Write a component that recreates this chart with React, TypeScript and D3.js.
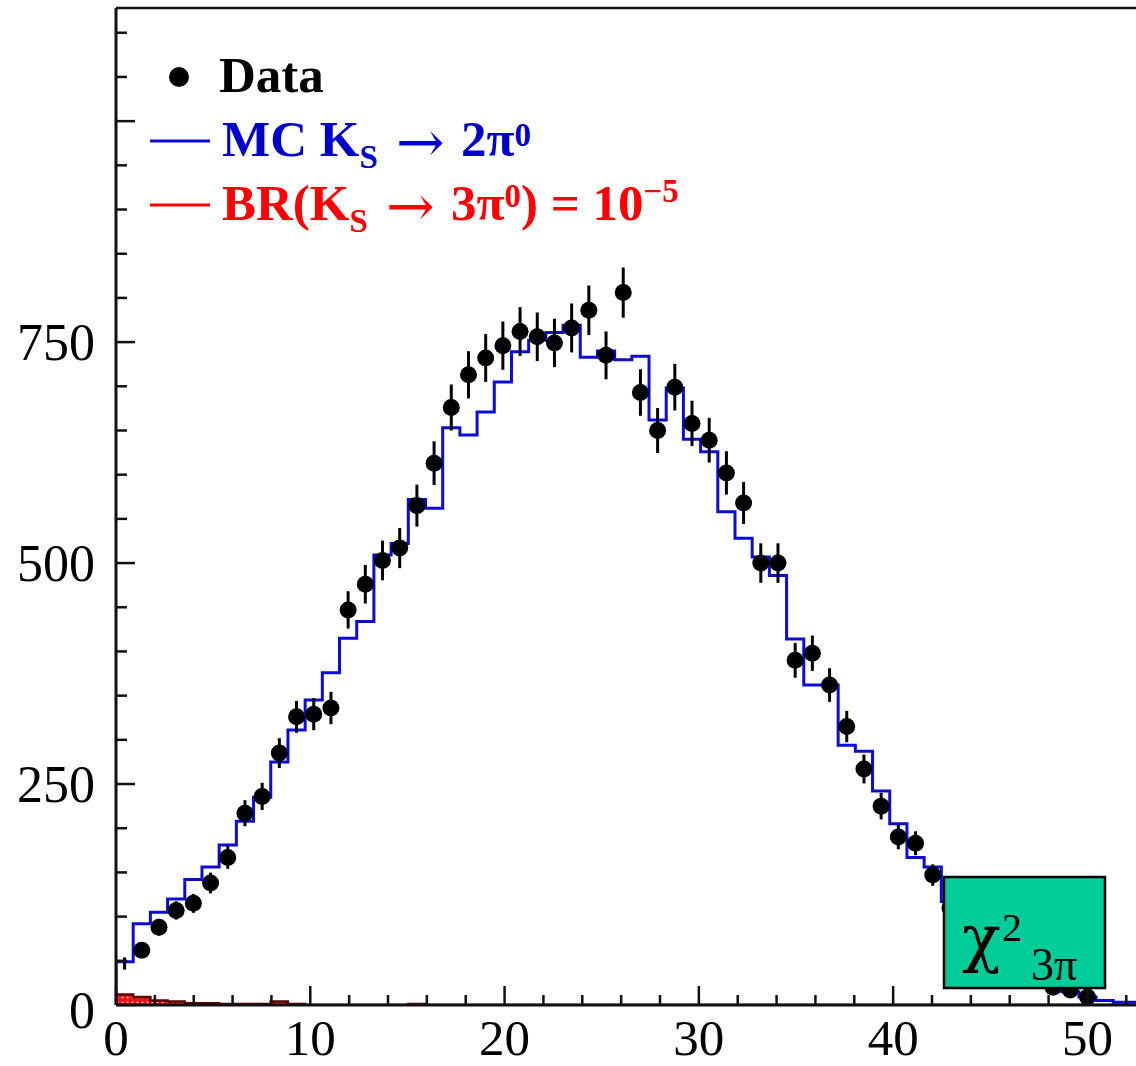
import React from "react";
import * as d3 from "d3";

// ---- data ----
const BIN_WIDTH = 0.885; // histogram bin width in x units (60 bins)
const dataCounts = [
  47, 62, 88, 107, 115, 138, 167, 217, 236, 285,
  326, 329, 336, 447, 476, 503, 517, 565, 613, 676,
  713, 732, 746, 762, 756, 749, 766, 786, 735, 806,
  693, 650, 699, 658, 639, 602, 568, 500, 500, 390,
  398, 362, 315, 267, 225, 190, 183, 147, 110, 90,
  70, 55, 40, 30, 20, 17, 9, 0, 0, 0,
];
const mcCounts = [
  49, 92, 105, 120, 142, 156, 181, 208, 235, 275,
  311, 345, 376, 415, 434, 509, 522, 572, 562, 653,
  645, 671, 705, 739, 752, 761, 769, 733, 740, 730,
  734, 662, 698, 640, 626, 558, 528, 507, 486, 414,
  362, 362, 294, 287, 242, 205, 167, 156, 117, 98,
  80, 64, 48, 36, 25, 15, 9, 5, 3, 3,
];
const signalCounts = [
  12, 9, 5, 4, 2, 2, 1, 1, 1, 4,
  1, 0, 0, 0, 0, 0, 0, 1, 0, 0,
  0, 0, 0, 0, 0, 0, 0, 0, 0, 0,
  0, 0, 0, 0, 0, 0, 0, 0, 0, 0,
  0, 0, 0, 0, 0, 0, 0, 0, 0, 0,
  0, 0, 0, 0, 0, 0, 0, 0, 0, 0,
];
const xTickLabels = [0, 10, 20, 30, 40, 50];
const yTickLabels = [0, 250, 500, 750];

// ---- layout ----
const W = 1136;
const H = 1066;
const PL = 116;
const PT = 8;
const PB = 1005;
const X_MAX = 52.5;
const Y_MAX = 1128;
const FONT = "'Liberation Serif', 'Times New Roman', serif";
const ARROW_FONT = "'DejaVu Serif', 'DejaVu Sans', serif";

const x = d3.scaleLinear().domain([0, X_MAX]).range([PL, W]);
const y = d3.scaleLinear().domain([0, Y_MAX]).range([PB, PT]);

function histPath(counts: number[]): string {
  const pts: [number, number][] = [[0, 0]];
  counts.forEach((c, i) => pts.push([i * BIN_WIDTH, c]));
  pts.push([counts.length * BIN_WIDTH, counts[counts.length - 1]]);
  const line = d3
    .line<[number, number]>()
    .x((d) => x(d[0]))
    .y((d) => y(d[1]))
    .curve(d3.curveStepAfter);
  return line(pts) || "";
}

function histArea(counts: number[]): string {
  const pts: [number, number][] = [];
  counts.forEach((c, i) => pts.push([i * BIN_WIDTH, c]));
  pts.push([counts.length * BIN_WIDTH, counts[counts.length - 1]]);
  const area = d3
    .area<[number, number]>()
    .x((d) => x(d[0]))
    .y0(y(0))
    .y1((d) => y(d[1]))
    .curve(d3.curveStepAfter);
  return area(pts) || "";
}

export default function App() {
  const xMinor = d3.range(0, X_MAX + 0.001, 2);
  const yMinor = d3.range(0, Y_MAX, 50);
  const blue = "#0b0bd6";

  return (
    <div style={{ position: "absolute", left: 0, top: 0, width: W, height: H, background: "#fff" }}>
      <svg width={W} height={H} style={{ display: "block" }} fontFamily={FONT}>
        <defs>
          <pattern id="redDots" width="5" height="5" patternUnits="userSpaceOnUse">
            <rect width="5" height="5" fill="#ee1111" />
            <circle cx="2.5" cy="2.5" r="1.1" fill="#ffb3b3" />
          </pattern>
          <clipPath id="plotClip">
            <rect x={PL} y={PT} width={W - PL} height={PB - PT} />
          </clipPath>
        </defs>

        {/* signal histogram */}
        <g clipPath="url(#plotClip)">
          <path d={histArea(signalCounts)} fill="url(#redDots)" />
          <path d={histPath(signalCounts)} fill="none" stroke="#5a0000" strokeWidth={2.5} />
          {/* MC histogram */}
          <path d={histPath(mcCounts)} fill="none" stroke={blue} strokeWidth={3} />
          {/* data */}
          {dataCounts.map((c, i) => {
            if (c <= 0) return null;
            const cx = x((i + 0.5) * BIN_WIDTH);
            const e = Math.sqrt(c);
            return (
              <g key={i}>
                <line x1={cx} x2={cx} y1={y(c - e)} y2={y(c + e)} stroke="#000" strokeWidth={3} />
                {i > 0 && <circle cx={cx} cy={y(c)} r={8.5} fill="#000" />}
              </g>
            );
          })}
        </g>

        {/* frame / axes */}
        <line x1={PL} x2={W} y1={PT} y2={PT} stroke="#111" strokeWidth={2.5} />
        <line x1={PL} x2={PL} y1={PT} y2={PB} stroke="#111" strokeWidth={3} />
        <line x1={PL} x2={W} y1={PB} y2={PB} stroke="#111" strokeWidth={3} />

        {yMinor.map((v) => {
          const major = v % 250 === 0;
          return (
            <line key={"yt" + v} x1={PL} x2={PL + (major ? 19 : 11)} y1={y(v)} y2={y(v)} stroke="#111" strokeWidth={2.5} />
          );
        })}
        {xMinor.map((v) => {
          const major = v % 10 === 0;
          return (
            <line key={"xt" + v} x1={x(v)} x2={x(v)} y1={PB} y2={PB - (major ? 19 : 10)} stroke="#111" strokeWidth={2.5} />
          );
        })}

        {yTickLabels.map((v) => (
          <text key={"yl" + v} x={95} y={y(v) + 18 + (v === 0 ? 5 : 0)} fontSize={52} textAnchor="end" fill="#000">
            {v}
          </text>
        ))}
        {xTickLabels.map((v) => (
          <text key={"xl" + v} x={x(v)} y={1055} fontSize={51} textAnchor="middle" fill="#000">
            {v}
          </text>
        ))}

        {/* legend */}
        <circle cx={179} cy={77} r={10} fill="#000" />
        <text x={219} y={92} fontSize={51} fontWeight="bold" fill="#000">
          Data
        </text>
        <line x1={150} x2={210} y1={141} y2={141} stroke={blue} strokeWidth={3} />
        <text x={222} y={156} fontSize={51} fontWeight="bold" fill="#0000cc">
          <tspan>MC K</tspan>
          <tspan fontSize={33} dy={12}>S</tspan>
          <tspan x={396} dy={-6} fontFamily={ARROW_FONT} fontWeight="normal" fontSize={58}>→</tspan>
          <tspan x={461} dy={-6}>2π</tspan>
          <tspan fontSize={33} dy={-10}>0</tspan>
        </text>
        <line x1={150} x2={210} y1={205} y2={205} stroke="#ff0000" strokeWidth={3} />
        <text x={222} y={220} fontSize={51} fontWeight="bold" fill="#ff0000">
          <tspan>BR(K</tspan>
          <tspan fontSize={33} dy={12}>S</tspan>
          <tspan x={386} dy={-6} fontFamily={ARROW_FONT} fontWeight="normal" fontSize={58}>→</tspan>
          <tspan x={451} dy={-6}>3π</tspan>
          <tspan fontSize={33} dy={-13}>0</tspan>
          <tspan dy={13}>) = 10</tspan>
          <tspan fontSize={33} dy={-18}>−5</tspan>
        </text>

        {/* chi2 box */}
        <rect x={944} y={877} width={161} height={111} fill="#00cc99" stroke="#000" strokeWidth={2.5} />
        <text x={962} y={960} fontSize={64} fill="#000">
          <tspan fontFamily={ARROW_FONT}>χ</tspan>
          <tspan x={1002} dy={-19} fontSize={40}>2</tspan>
          <tspan x={1031} dy={39} fontSize={46}>3π</tspan>
        </text>
      </svg>
    </div>
  );
}
